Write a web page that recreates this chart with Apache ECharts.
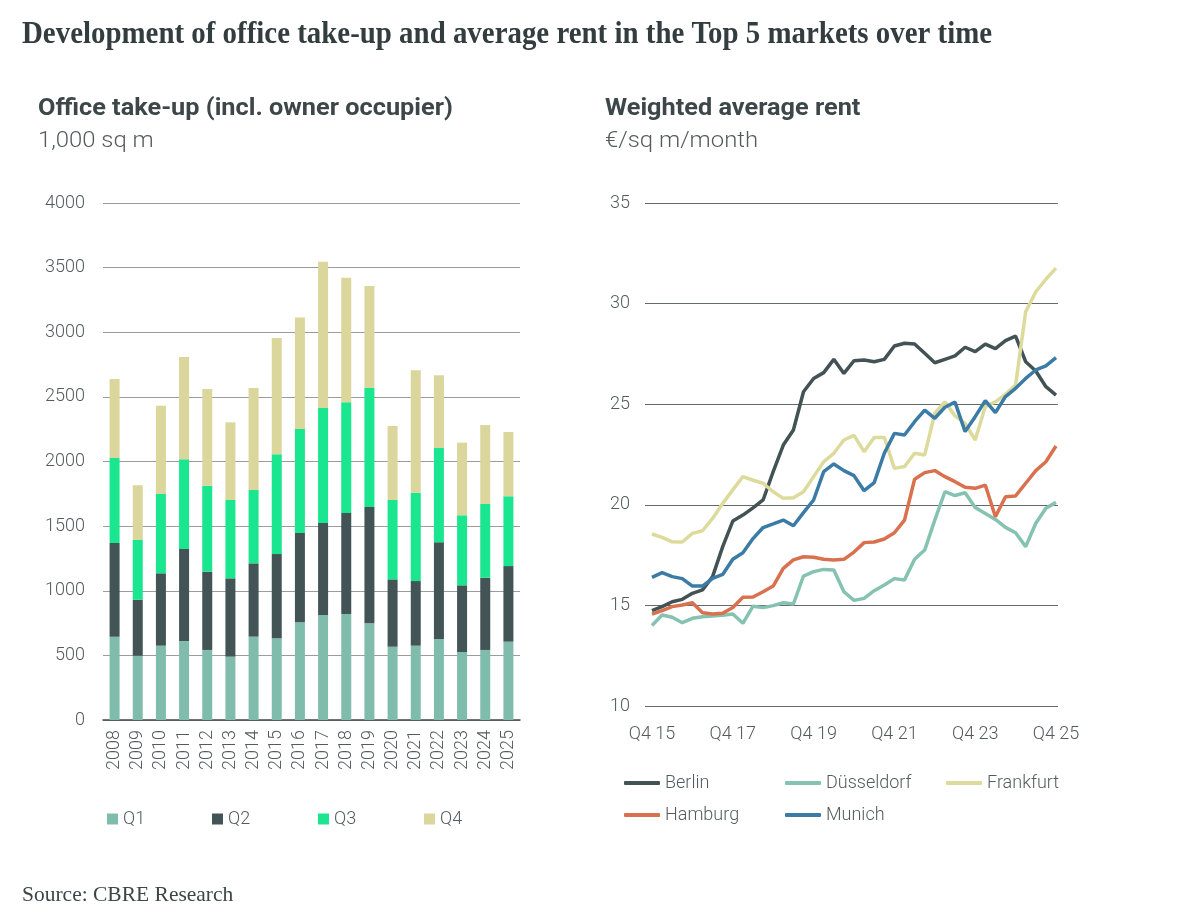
<!DOCTYPE html>
<html>
<head>
<meta charset="utf-8">
<title>Office take-up and average rent, Top 5 markets</title>
<script src="https://cdn.jsdelivr.net/npm/echarts@6/dist/echarts.min.js"></script>
<style>
  html, body { margin: 0; padding: 0; background: #fff; }
  #main { width: 1188px; height: 921px; }
</style>
</head>
<body>
<div id="main"></div>
<script>
// take-up per quarter, 1,000 sq m
var years = ['2008','2009','2010','2011','2012','2013','2014','2015','2016','2017','2018','2019','2020','2021','2022','2023','2024','2025'];
var q1 = [644, 497, 575, 611, 542, 490, 645, 632, 756, 812, 820, 748, 567, 575, 627, 526, 542, 606];
var q2 = [725, 434, 560, 712, 606, 606, 567, 652, 691, 712, 782, 900, 521, 500, 748, 516, 559, 585];
var q3 = [658, 462, 614, 694, 665, 606, 568, 772, 804, 890, 856, 921, 614, 684, 729, 542, 570, 540];
var q4 = [611, 423, 683, 791, 748, 601, 789, 899, 864, 1132, 964, 789, 573, 947, 563, 562, 611, 497];

// weighted average rent, €/sq m/month
var quarters = ['Q4 15',
  'Q1 16','Q2 16','Q3 16','Q4 16','Q1 17','Q2 17','Q3 17','Q4 17',
  'Q1 18','Q2 18','Q3 18','Q4 18','Q1 19','Q2 19','Q3 19','Q4 19',
  'Q1 20','Q2 20','Q3 20','Q4 20','Q1 21','Q2 21','Q3 21','Q4 21',
  'Q1 22','Q2 22','Q3 22','Q4 22','Q1 23','Q2 23','Q3 23','Q4 23',
  'Q1 24','Q2 24','Q3 24','Q4 24','Q1 25','Q2 25','Q3 25','Q4 25'];
var berlin = [14.74, 14.94, 15.18, 15.30, 15.60, 15.77, 16.43, 17.92, 19.19, 19.49, 19.85, 20.24, 21.65, 22.97, 23.72, 25.62, 26.28, 26.57, 27.23, 26.53, 27.16, 27.20, 27.11, 27.23, 27.89, 28.03, 27.99, 27.53, 27.06, 27.23, 27.40, 27.83, 27.61, 27.99, 27.76, 28.16, 28.38, 27.11, 26.65, 25.87, 25.45];
var duesseldorf = [14.00, 14.52, 14.41, 14.14, 14.36, 14.44, 14.47, 14.51, 14.57, 14.11, 14.96, 14.89, 14.99, 15.13, 15.07, 16.46, 16.68, 16.79, 16.76, 15.68, 15.25, 15.35, 15.73, 16.01, 16.33, 16.26, 17.29, 17.75, 19.24, 20.65, 20.46, 20.60, 19.87, 19.57, 19.27, 18.88, 18.61, 17.92, 19.08, 19.83, 20.12];
var frankfurt = [18.55, 18.38, 18.16, 18.15, 18.58, 18.71, 19.32, 20.07, 20.74, 21.40, 21.22, 21.07, 20.65, 20.32, 20.35, 20.65, 21.40, 22.14, 22.56, 23.22, 23.45, 22.64, 23.35, 23.35, 21.81, 21.90, 22.56, 22.48, 24.55, 25.12, 24.42, 24.05, 23.22, 24.88, 25.12, 25.49, 25.95, 29.60, 30.59, 31.21, 31.76];
var hamburg = [14.57, 14.74, 14.94, 15.02, 15.13, 14.64, 14.57, 14.61, 14.90, 15.40, 15.42, 15.68, 15.96, 16.84, 17.26, 17.42, 17.39, 17.29, 17.26, 17.29, 17.65, 18.12, 18.15, 18.30, 18.61, 19.24, 21.27, 21.60, 21.70, 21.40, 21.15, 20.87, 20.82, 20.98, 19.41, 20.40, 20.44, 21.07, 21.70, 22.14, 22.92];
var munich = [16.39, 16.63, 16.43, 16.33, 15.96, 15.96, 16.34, 16.54, 17.29, 17.62, 18.32, 18.87, 19.05, 19.24, 18.96, 19.61, 20.24, 21.65, 22.03, 21.70, 21.45, 20.70, 21.10, 22.56, 23.55, 23.47, 24.13, 24.71, 24.30, 24.85, 25.10, 23.64, 24.38, 25.18, 24.58, 25.38, 25.79, 26.28, 26.70, 26.90, 27.31];

var FONT = 'Roboto, "Noto Sans", sans-serif';
var LABEL = { fontFamily: FONT, fontSize: 18, color: '#555b5d', fontWeight: 300 };

var chart = echarts.init(document.getElementById('main'));

function legendAt(name, left, top, icon, w, h) {
  return {
    data: [name], left: left, top: top, padding: 0, icon: icon,
    itemWidth: w, itemHeight: h, selectedMode: false,
    textStyle: { fontFamily: FONT, fontSize: 18, color: '#555b5d', fontWeight: 300 }
  };
}

function barSeries(name, data, color) {
  return { name: name, type: 'bar', stack: 'takeup', xAxisIndex: 0, yAxisIndex: 0,
    barWidth: 10, itemStyle: { color: color }, data: data };
}

function lineSeries(name, data, color) {
  return { name: name, type: 'line', xAxisIndex: 2, yAxisIndex: 2, symbol: 'none',
    lineStyle: { color: color, width: 3.5 }, itemStyle: { color: color }, data: data };
}

// headings are drawn a little stretched/squeezed to match the original's widths
function heading(text, x, y, font, fill, sx) {
  return { type: 'text', x: x, y: y, scaleX: sx,
    style: { text: text, font: font, fill: fill, verticalAlign: 'middle' } };
}

var option = {
  animation: false,
  graphic: [
    heading('Development of office take-up and average rent in the Top 5 markets over time',
      22, 35, 'bold 31px "Liberation Serif", serif', '#333c3e', 0.932),
    heading('Office take-up (incl. owner occupier)', 38, 109, 'bold 23px Roboto, sans-serif', '#3d4648', 1.10),
    heading('1,000 sq m', 38, 141, '300 22px Roboto, sans-serif', '#555b5d', 1.085),
    heading('Weighted average rent', 605, 109, 'bold 23px Roboto, sans-serif', '#3d4648', 1.10),
    heading('€/sq m/month', 605, 141, '300 22px Roboto, sans-serif', '#555b5d', 1.085),
    heading('Source: CBRE Research', 22, 895, '22px "Liberation Serif", serif', '#3d4547', 0.977)
  ],
  legend: [
    legendAt('Q1', 107, 810, 'rect', 11, 11),
    legendAt('Q2', 212, 810, 'rect', 11, 11),
    legendAt('Q3', 318, 810, 'rect', 11, 11),
    legendAt('Q4', 424, 810, 'rect', 11, 11),
    legendAt('Berlin', 624, 774, 'roundRect', 36, 4),
    legendAt('Düsseldorf', 785, 774, 'roundRect', 36, 4),
    legendAt('Frankfurt', 946, 774, 'roundRect', 36, 4),
    legendAt('Hamburg', 624, 806, 'roundRect', 36, 4),
    legendAt('Munich', 785, 806, 'roundRect', 36, 4)
  ],
  grid: [
    { left: 103, top: 203, width: 417, height: 517 },
    { left: 645, top: 203, width: 413, height: 503 },
    { left: 652, top: 203, width: 404, height: 503 }
  ],
  xAxis: [
    { type: 'category', gridIndex: 0, data: years,
      axisLine: { lineStyle: { color: '#3e4a4c', width: 1.5 } }, axisTick: { show: false },
      axisLabel: Object.assign({ rotate: 90, margin: 10, interval: 0 }, LABEL) },
    { type: 'value', gridIndex: 1, show: false, min: 0, max: 1 },
    { type: 'category', gridIndex: 2, data: quarters, boundaryGap: false,
      axisLine: { show: false }, axisTick: { show: false },
      axisLabel: Object.assign({ interval: 7, margin: 19 }, LABEL) }
  ],
  yAxis: [
    { type: 'value', gridIndex: 0, min: 0, max: 4000, interval: 500,
      axisLine: { show: false }, axisTick: { show: false },
      splitLine: { lineStyle: { color: '#9c9c9c', width: 1 } },
      axisLabel: Object.assign({ margin: 18, formatter: function (v) { return String(v); } }, LABEL) },
    { type: 'value', gridIndex: 1, min: 10, max: 35, interval: 5,
      axisLine: { show: false }, axisTick: { show: false },
      splitLine: { lineStyle: { color: '#626a6c', width: 1 } },
      axisLabel: Object.assign({ margin: 15 }, LABEL) },
    { type: 'value', gridIndex: 2, min: 10, max: 35, interval: 5, show: false,
      splitLine: { show: false } }
  ],
  series: [
    barSeries('Q1', q1, '#80bcab'),
    barSeries('Q2', q2, '#435456'),
    barSeries('Q3', q3, '#19e68e'),
    barSeries('Q4', q4, '#dad69c'),
    lineSeries('Berlin', berlin, '#435254'),
    lineSeries('Düsseldorf', duesseldorf, '#86c2b1'),
    lineSeries('Frankfurt', frankfurt, '#dddb9c'),
    lineSeries('Hamburg', hamburg, '#d9714f'),
    lineSeries('Munich', munich, '#3b7ca6')
  ]
};

chart.setOption(option);
</script>
</body>
</html>
